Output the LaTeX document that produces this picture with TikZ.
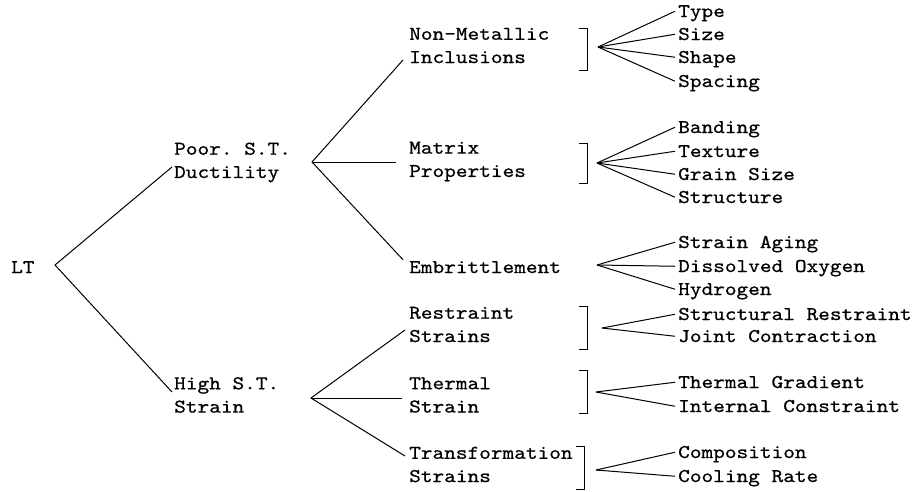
\documentclass[tikz,border=0pt]{standalone}
\usepackage{fontspec}
\setmonofont[FakeStretch=1.14,FakeBold=0.6]{lmmono10-regular.otf}
\usetikzlibrary{positioning}
\newcommand{\rbrak}[3]{\draw[tree] (#1-8,#2) -- (#1,#2) -- (#1,#3) -- (#1-8,#3);}
\begin{document}
\begin{tikzpicture}[x=1pt,y=-1pt,
		lbl/.style={anchor=west,align=left,inner sep=0pt,font=\fontsize{19.5}{23.3}\selectfont\ttfamily},
		leaf/.style={lbl,anchor=base west,text height=11.5pt,text depth=0pt},
		tree/.style={line width=1pt}]
		\useasboundingbox (0,0) rectangle (917,491);
		% root and first level
		\node[leaf] (lt)     at (11,273)  {LT};
		\node[lbl]  (poor)   at (174,162.5) {Poor. S.T.\\Ductility};
		\node[lbl]  (high)   at (174,395) {High S.T.\\Strain};
		% second level
		\node[lbl]  (nonmet) at (409,45.5)  {Non-Metallic\\Inclusions};
		\node[lbl]  (matrix) at (409,161.5) {Matrix\\Properties};
		\node[leaf] (embrit) at (409,273) {Embrittlement};
		\node[lbl]  (restr)  at (409,324.5) {Restraint\\Strains};
		\node[lbl]  (therm)  at (409,395) {Thermal\\Strain};
		\node[lbl]  (transf) at (409,464.5) {Transformation\\Strains};
		% vertices
		\coordinate (ltv)   at (55,265);
		\coordinate (poorv) at (312,162);
		\coordinate (highv) at (311,398);
		\coordinate (f1) at (598,47);
		\coordinate (f2) at (597,163);
		\coordinate (f3) at (597,265);
		\coordinate (f4) at (602,328);
		\coordinate (f5) at (596,392);
		\coordinate (f6) at (596,470);
		% leaves
		\foreach \name/\txt/\y in {type/Type/17,size/Size/40,shape/Shape/63,spacing/Spacing/87,
				band/Banding/133,text/Texture/157,grain/Grain Size/180,struct/Structure/203,
				aging/Strain Aging/248,oxy/Dissolved Oxygen/272,hydro/Hydrogen/295,
				srest/Structural Restraint/320,joint/Joint Contraction/342,
				grad/Thermal Gradient/388,intc/Internal Constraint/412,
				comp/Composition/458,cool/Cooling Rate/482}
			\node[leaf] (\name) at (678,\y) {\txt};
		
		\draw[tree] ([xshift=-2pt,yshift=-4.5pt]poor.west) -- (ltv) -- ([xshift=-2pt,yshift=3pt]high.west);
		\draw[tree] ([xshift=-6pt,yshift=-14.5pt]nonmet.west) -- (poorv) -- ([xshift=-6pt,yshift=7.5pt]embrit.west);
		\draw[tree] (poorv) -- ([xshift=-13pt]matrix.west |- poorv);
		\draw[tree] ([xshift=-4pt,yshift=-5.5pt]restr.west) -- (highv) -- ([xshift=-4pt,yshift=8.5pt]transf.west);
		\draw[tree] (highv) -- ([xshift=-7pt]therm.west |- highv);
		
		\foreach \leaf in {type,size,shape,spacing} \draw[tree] (f1) -- ([xshift=-3pt]\leaf.west);
		\foreach \leaf in {band,text,grain,struct} \draw[tree] (f2) -- ([xshift=-3pt]\leaf.west);
		\foreach \leaf in {aging,oxy,hydro} \draw[tree] (f3) -- ([xshift=-3pt]\leaf.west);
		\foreach \leaf in {srest,joint} \draw[tree] (f4) -- ([xshift=-3pt]\leaf.west);
		\foreach \leaf in {grad,intc} \draw[tree] (f5) -- ([xshift=-3pt]\leaf.west);
		\foreach \leaf in {comp,cool} \draw[tree] (f6) -- ([xshift=-3pt]\leaf.west);
		
		\rbrak{587}{28}{70}
		\rbrak{587}{143}{183}
		\rbrak{587}{306}{349}
		\rbrak{587}{370}{413}
		\rbrak{584}{446}{489}
		\end{tikzpicture}
\end{document}
